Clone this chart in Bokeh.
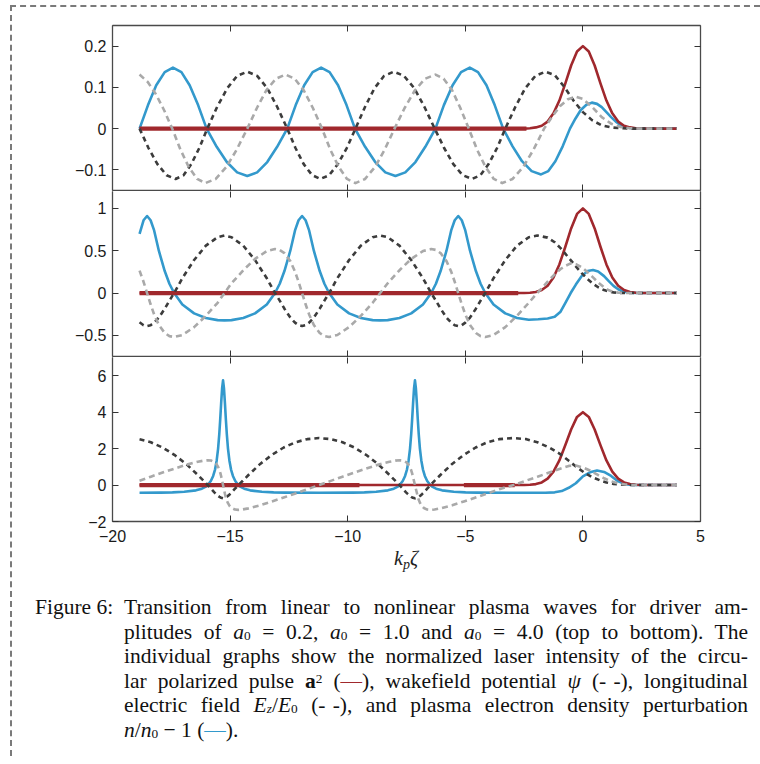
from bokeh.plotting import figure
from bokeh.models import Range1d, LinearAxis, FixedTicker, Div
from bokeh.layouts import column
from bokeh.embed import file_html
from bokeh.resources import INLINE

# ---------------- axes / ticks ----------------
x_ticks = [-20, -15, -10, -5, 0, 5]
x_tick_labels = ["\u221220", "\u221215", "\u221210", "\u22125", "0", "5"]
p1_y_range = (-0.15, 0.25)
p1_y_ticks = [-0.1, 0, 0.1, 0.2]
p1_y_labels = ["\u22120.1", "0", "0.1", "0.2"]
p2_y_range = (-0.75, 1.2)
p2_y_ticks = [-0.5, 0, 0.5, 1]
p2_y_labels = ["\u22120.5", "0", "0.5", "1"]
p3_y_range = (-2, 7)
p3_y_ticks = [-2, 0, 2, 4, 6]
p3_y_labels = ["\u22122", "0", "2", "4", "6"]

# ---------------- panel 1 : a0 = 0.2 ----------------
p1_laser = [(-18.85, 0.0), (-2.5, 0.0), (-2.25, 0.001), (-2.0, 0.003), (-1.75, 0.007), (-1.5, 0.017),
            (-1.25, 0.037), (-1.0, 0.068), (-0.75, 0.109), (-0.5, 0.153), (-0.25, 0.187), (0.0, 0.2),
            (0.25, 0.187), (0.5, 0.153), (0.75, 0.109), (1.0, 0.068), (1.25, 0.037), (1.5, 0.017),
            (1.75, 0.007), (2.0, 0.003), (2.25, 0.001), (2.5, 0.0), (4.0, 0.0)]
p1_density = [(-18.85, 0.0), (-18.49, 0.057), (-18.14, 0.105), (-17.78, 0.137), (-17.43, 0.148),
              (-17.07, 0.137), (-16.72, 0.105), (-16.36, 0.057), (-16.00, 0.0), (-15.57, -0.044),
              (-15.14, -0.081), (-14.70, -0.106), (-14.27, -0.115), (-13.85, -0.106), (-13.42, -0.081),
              (-13.00, -0.044), (-12.57, 0.0), (-12.21, 0.057), (-11.85, 0.105), (-11.49, 0.137),
              (-11.13, 0.148), (-10.77, 0.137), (-10.41, 0.105), (-10.05, 0.057), (-9.69, 0.0),
              (-9.26, -0.044), (-8.83, -0.081), (-8.40, -0.106), (-7.97, -0.115), (-7.55, -0.106),
              (-7.12, -0.081), (-6.70, -0.044), (-6.27, 0.0), (-5.91, 0.057), (-5.54, 0.105),
              (-5.18, 0.137), (-4.81, 0.148), (-4.46, 0.137), (-4.10, 0.105), (-3.75, 0.057),
              (-3.39, 0.0), (-2.99, -0.043), (-2.59, -0.079), (-2.18, -0.103), (-1.78, -0.111),
              (-1.47, -0.103), (-1.17, -0.079), (-0.86, -0.043), (-0.55, 0.0), (-0.32, 0.024),
              (-0.09, 0.045), (0.15, 0.058), (0.38, 0.063), (0.6, 0.060), (0.8, 0.052), (1.0, 0.040),
              (1.2, 0.028), (1.4, 0.017), (1.6, 0.009), (1.8, 0.004), (2.0, 0.0015), (2.3, 0.0), (4.0, 0.0)]
p1_potential = [(-18.85, 0.0), (-18.47, -0.047), (-18.09, -0.086), (-17.70, -0.113), (-17.32, -0.122),
                (-16.98, -0.113), (-16.65, -0.086), (-16.31, -0.047), (-15.97, 0.0), (-15.55, 0.053),
                (-15.12, 0.098), (-14.70, 0.128), (-14.27, 0.138), (-13.85, 0.128), (-13.42, 0.098),
                (-13.00, 0.053), (-12.57, 0.0), (-12.22, -0.047), (-11.87, -0.086), (-11.51, -0.113),
                (-11.16, -0.122), (-10.79, -0.113), (-10.42, -0.086), (-10.04, -0.047), (-9.67, 0.0),
                (-9.26, 0.053), (-8.86, 0.098), (-8.45, 0.128), (-8.04, 0.138), (-7.61, 0.128),
                (-7.17, 0.098), (-6.74, 0.053), (-6.30, 0.0), (-5.90, -0.047), (-5.51, -0.086),
                (-5.11, -0.113), (-4.71, -0.122), (-4.36, -0.113), (-4.01, -0.086), (-3.65, -0.047),
                (-3.30, 0.0), (-2.87, 0.053), (-2.45, 0.098), (-2.02, 0.128), (-1.59, 0.138),
                (-1.2, 0.130), (-0.8, 0.102), (-0.4, 0.068), (0.0, 0.040), (0.4, 0.020), (0.8, 0.008),
                (1.2, 0.003), (1.6, 0.001), (2.0, 0.0), (4.0, 0.0)]
p1_field = [(-18.85, 0.131), (-18.50, 0.113), (-18.15, 0.083), (-17.80, 0.044), (-17.46, 0.0),
            (-17.11, -0.051), (-16.76, -0.093), (-16.40, -0.122), (-16.05, -0.132), (-15.61, -0.122),
            (-15.16, -0.093), (-14.72, -0.051), (-14.27, 0.0), (-13.86, 0.050), (-13.46, 0.093),
            (-13.05, 0.121), (-12.64, 0.131), (-12.25, 0.121), (-11.87, 0.093), (-11.48, 0.050),
            (-11.09, 0.0), (-10.74, -0.051), (-10.38, -0.093), (-10.03, -0.122), (-9.67, -0.132),
            (-9.26, -0.122), (-8.84, -0.093), (-8.43, -0.051), (-8.01, 0.0), (-7.58, 0.050),
            (-7.14, 0.093), (-6.71, 0.121), (-6.27, 0.131), (-5.92, 0.121), (-5.56, 0.093),
            (-5.21, 0.050), (-4.85, 0.0), (-4.50, -0.051), (-4.14, -0.093), (-3.79, -0.122),
            (-3.43, -0.132), (-2.99, -0.122), (-2.54, -0.093), (-2.10, -0.051), (-1.65, 0.0),
            (-1.31, 0.029), (-0.98, 0.054), (-0.64, 0.071), (-0.30, 0.077), (0.0, 0.072), (0.4, 0.052),
            (0.8, 0.028), (1.2, 0.012), (1.6, 0.004), (2.0, 0.001), (2.4, 0.0), (4.0, 0.0)]
p1_laser_base = [(-18.85, 0.0), (-2.4, 0.0)]

# ---------------- panel 2 : a0 = 1.0 ----------------
p2_laser = [(-18.85, 0.0), (-2.5, 0.0), (-2.25, 0.004), (-2.0, 0.013), (-1.75, 0.036), (-1.5, 0.087),
            (-1.25, 0.184), (-1.0, 0.338), (-0.75, 0.544), (-0.5, 0.763), (-0.25, 0.935), (0.0, 1.0),
            (0.25, 0.935), (0.5, 0.763), (0.75, 0.544), (1.0, 0.338), (1.25, 0.184), (1.5, 0.087),
            (1.75, 0.036), (2.0, 0.013), (2.25, 0.004), (2.5, 0.0), (4.0, 0.0)]
p2_density = [(-18.85, 0.70), (-18.68, 0.86), (-18.53, 0.91), (-18.38, 0.86), (-18.23, 0.74), (-18.03, 0.50),
              (-17.78, 0.26), (-17.58, 0.11), (-17.38, 0.0), (-17.03, -0.135), (-16.53, -0.24),
              (-16.03, -0.295), (-15.53, -0.32), (-15.24, -0.323), (-14.94, -0.32), (-14.44, -0.295),
              (-13.94, -0.24), (-13.44, -0.135), (-13.09, 0.0), (-12.89, 0.11), (-12.69, 0.26),
              (-12.44, 0.50), (-12.24, 0.74), (-12.09, 0.86), (-11.94, 0.91), (-11.79, 0.86),
              (-11.64, 0.74), (-11.44, 0.50), (-11.19, 0.26), (-10.99, 0.11), (-10.79, 0.0),
              (-10.44, -0.135), (-9.94, -0.24), (-9.44, -0.295), (-8.94, -0.32), (-8.62, -0.323),
              (-8.30, -0.32), (-7.80, -0.295), (-7.30, -0.24), (-6.80, -0.135), (-6.45, 0.0),
              (-6.25, 0.11), (-6.05, 0.26), (-5.80, 0.50), (-5.60, 0.74), (-5.45, 0.86), (-5.30, 0.91),
              (-5.15, 0.86), (-5.00, 0.74), (-4.80, 0.50), (-4.55, 0.26), (-4.35, 0.11), (-4.15, 0.0),
              (-3.80, -0.135), (-3.30, -0.24), (-2.80, -0.295), (-2.30, -0.315), (-1.90, -0.31),
              (-1.50, -0.30), (-1.20, -0.28), (-0.95, -0.22), (-0.75, -0.12), (-0.52, 0.0),
              (-0.30, 0.10), (-0.05, 0.20), (0.20, 0.26), (0.43, 0.272), (0.65, 0.255), (0.90, 0.20),
              (1.10, 0.14), (1.30, 0.085), (1.50, 0.045), (1.70, 0.02), (2.00, 0.005), (2.30, 0.0),
              (4.00, 0.0)]
p2_potential = [(-18.85, -0.345), (-18.68, -0.38), (-18.53, -0.39), (-18.38, -0.38), (-18.23, -0.35),
                (-18.03, -0.29), (-17.78, -0.185), (-17.58, -0.09), (-17.38, 0.0), (-17.03, 0.175),
                (-16.53, 0.39), (-16.03, 0.56), (-15.53, 0.66), (-15.24, 0.68), (-14.94, 0.66),
                (-14.44, 0.56), (-13.94, 0.39), (-13.44, 0.175), (-13.09, 0.0), (-12.89, -0.09),
                (-12.69, -0.185), (-12.44, -0.29), (-12.24, -0.35), (-12.09, -0.38), (-11.94, -0.39),
                (-11.79, -0.38), (-11.64, -0.35), (-11.44, -0.29), (-11.19, -0.185), (-10.99, -0.09),
                (-10.79, 0.0), (-10.44, 0.175), (-9.94, 0.39), (-9.44, 0.56), (-8.94, 0.66),
                (-8.62, 0.68), (-8.30, 0.66), (-7.80, 0.56), (-7.30, 0.39), (-6.80, 0.175), (-6.45, 0.0),
                (-6.25, -0.09), (-6.05, -0.185), (-5.80, -0.29), (-5.60, -0.35), (-5.45, -0.38),
                (-5.30, -0.39), (-5.15, -0.38), (-5.00, -0.35), (-4.80, -0.29), (-4.55, -0.185),
                (-4.35, -0.09), (-4.15, 0.0), (-3.80, 0.175), (-3.30, 0.39), (-2.80, 0.56),
                (-2.30, 0.66), (-1.94, 0.68), (-1.50, 0.655), (-1.20, 0.60), (-0.95, 0.53),
                (-0.75, 0.465), (-0.52, 0.39), (-0.30, 0.315), (-0.05, 0.235), (0.20, 0.165),
                (0.43, 0.11), (0.65, 0.068), (0.90, 0.035), (1.10, 0.018), (1.30, 0.008), (1.50, 0.003),
                (1.70, 0.001), (2.00, 0.0), (4.00, 0.0)]
p2_field = [(-18.85, 0.265), (-18.68, 0.133), (-18.53, 0.0), (-18.38, -0.133), (-18.23, -0.253),
            (-18.03, -0.377), (-17.78, -0.472), (-17.58, -0.509), (-17.38, -0.52), (-17.03, -0.496),
            (-16.53, -0.403), (-16.03, -0.269), (-15.53, -0.115), (-15.24, 0.0), (-14.94, 0.115),
            (-14.44, 0.269), (-13.94, 0.403), (-13.44, 0.496), (-13.09, 0.52), (-12.89, 0.509),
            (-12.69, 0.472), (-12.44, 0.377), (-12.24, 0.253), (-12.09, 0.133), (-11.94, 0.0),
            (-11.79, -0.133), (-11.64, -0.253), (-11.44, -0.377), (-11.19, -0.472), (-10.99, -0.509),
            (-10.79, -0.52), (-10.44, -0.496), (-9.94, -0.403), (-9.44, -0.269), (-8.94, -0.115),
            (-8.62, 0.0), (-8.30, 0.115), (-7.80, 0.269), (-7.30, 0.403), (-6.80, 0.496), (-6.45, 0.52),
            (-6.25, 0.509), (-6.05, 0.472), (-5.80, 0.377), (-5.60, 0.253), (-5.45, 0.133), (-5.30, 0.0),
            (-5.15, -0.133), (-5.00, -0.253), (-4.80, -0.377), (-4.55, -0.472), (-4.35, -0.509),
            (-4.15, -0.52), (-3.80, -0.496), (-3.30, -0.403), (-2.80, -0.269), (-2.30, -0.115),
            (-1.94, 0.0), (-1.50, 0.134), (-1.20, 0.22), (-0.95, 0.284), (-0.75, 0.32), (-0.52, 0.35),
            (-0.30, 0.34), (-0.05, 0.305), (0.20, 0.245), (0.43, 0.185), (0.65, 0.125), (0.90, 0.068),
            (1.10, 0.033), (1.30, 0.014), (1.50, 0.005), (1.80, 0.001), (2.20, 0.0), (4.00, 0.0)]
p2_laser_base = [(-18.85, 0.0), (-2.75, 0.0)]

# ---------------- panel 3 : a0 = 4.0 ----------------
p3_laser = [(-18.85, 0.0), (-2.5, 0.0), (-2.25, 0.016), (-2.0, 0.052), (-1.75, 0.145), (-1.5, 0.35),
            (-1.25, 0.74), (-1.0, 1.35), (-0.75, 2.18), (-0.5, 3.05), (-0.25, 3.74), (0.0, 4.0),
            (0.25, 3.74), (0.5, 3.05), (0.75, 2.18), (1.0, 1.35), (1.25, 0.74), (1.5, 0.35),
            (1.75, 0.145), (2.0, 0.052), (2.25, 0.016), (2.5, 0.0), (4.0, 0.0)]
p3_density = [(-18.85, -0.42), (-17.95, -0.415), (-17.45, -0.40), (-16.95, -0.37), (-16.45, -0.29),
              (-16.20, -0.20), (-16.05, -0.10), (-15.95, 0.0), (-15.82, 0.22), (-15.72, 0.5),
              (-15.64, 0.85), (-15.57, 1.35), (-15.51, 2.0), (-15.46, 2.8), (-15.42, 3.6), (-15.38, 4.5),
              (-15.34, 5.3), (-15.30, 5.75), (-15.26, 5.3), (-15.22, 4.5), (-15.18, 3.6), (-15.14, 2.8),
              (-15.09, 2.0), (-15.03, 1.35), (-14.96, 0.85), (-14.88, 0.5), (-14.78, 0.22), (-14.65, 0.0),
              (-14.55, -0.10), (-14.40, -0.20), (-14.15, -0.29), (-13.65, -0.37), (-13.15, -0.40),
              (-12.65, -0.415), (-11.22, -0.42), (-9.79, -0.415), (-9.29, -0.40), (-8.79, -0.37),
              (-8.29, -0.29), (-8.04, -0.20), (-7.89, -0.10), (-7.79, 0.0), (-7.66, 0.22), (-7.56, 0.5),
              (-7.48, 0.85), (-7.41, 1.35), (-7.35, 2.0), (-7.30, 2.8), (-7.26, 3.6), (-7.22, 4.5),
              (-7.18, 5.3), (-7.14, 5.75), (-7.10, 5.3), (-7.06, 4.5), (-7.02, 3.6), (-6.98, 2.8),
              (-6.93, 2.0), (-6.87, 1.35), (-6.80, 0.85), (-6.72, 0.5), (-6.62, 0.22), (-6.49, 0.0),
              (-6.39, -0.10), (-6.24, -0.20), (-5.99, -0.29), (-5.49, -0.37), (-4.99, -0.40),
              (-4.49, -0.415), (-3.0, -0.42), (-1.6, -0.42), (-1.2, -0.40), (-0.9, -0.33), (-0.6, -0.15),
              (-0.3, 0.10), (0.0, 0.48), (0.3, 0.70), (0.6, 0.80), (0.9, 0.72), (1.2, 0.50), (1.5, 0.20),
              (1.8, 0.05), (2.1, 0.01), (2.5, 0.0), (4.0, 0.0)]
p3_potential = [(-18.85, 2.51), (-18.37, 2.35), (-17.87, 2.06), (-17.37, 1.66), (-16.87, 1.16),
                (-16.37, 0.55), (-16.12, 0.225), (-15.95, 0.0), (-15.81, -0.2), (-15.67, -0.4),
                (-15.59, -0.5), (-15.505, -0.6), (-15.45, -0.65), (-15.41, -0.68), (-15.38, -0.70),
                (-15.30, -0.73), (-15.22, -0.70), (-15.19, -0.68), (-15.15, -0.65), (-15.095, -0.6),
                (-15.01, -0.5), (-14.93, -0.4), (-14.79, -0.2), (-14.65, 0.0), (-14.47, 0.225),
                (-14.22, 0.55), (-13.72, 1.16), (-13.22, 1.66), (-12.72, 2.06), (-12.22, 2.35),
                (-11.72, 2.52), (-11.22, 2.58), (-10.72, 2.52), (-10.22, 2.35), (-9.72, 2.06),
                (-9.22, 1.66), (-8.72, 1.16), (-8.22, 0.55), (-7.97, 0.225), (-7.80, 0.0), (-7.66, -0.2),
                (-7.52, -0.4), (-7.44, -0.5), (-7.355, -0.6), (-7.30, -0.65), (-7.26, -0.68),
                (-7.23, -0.70), (-7.14, -0.73), (-7.05, -0.70), (-7.02, -0.68), (-6.98, -0.65),
                (-6.925, -0.6), (-6.84, -0.5), (-6.76, -0.4), (-6.62, -0.2), (-6.48, 0.0), (-6.31, 0.225),
                (-6.06, 0.55), (-5.56, 1.16), (-5.06, 1.66), (-4.56, 2.06), (-4.06, 2.35), (-3.56, 2.52),
                (-2.95, 2.58), (-2.4, 2.52), (-1.9, 2.33), (-1.4, 2.04), (-1.0, 1.73), (-0.6, 1.33),
                (-0.23, 0.95), (0.1, 0.65), (0.4, 0.43), (0.76, 0.24), (1.0, 0.14), (1.3, 0.065),
                (1.6, 0.025), (2.0, 0.006), (2.4, 0.0), (4.0, 0.0)]
p3_field = [(-18.85, 0.24), (-18.37, 0.46), (-17.87, 0.685), (-17.37, 0.90), (-16.87, 1.11), (-16.37, 1.28),
            (-16.12, 1.34), (-15.95, 1.36), (-15.81, 1.345), (-15.67, 1.26), (-15.59, 1.17),
            (-15.505, 0.98), (-15.45, 0.81), (-15.41, 0.64), (-15.38, 0.48), (-15.30, 0.0),
            (-15.22, -0.48), (-15.19, -0.64), (-15.15, -0.81), (-15.095, -0.98), (-15.01, -1.17),
            (-14.93, -1.26), (-14.79, -1.345), (-14.65, -1.36), (-14.47, -1.34), (-14.22, -1.28),
            (-13.72, -1.11), (-13.22, -0.90), (-12.72, -0.685), (-12.22, -0.46), (-11.72, -0.23),
            (-11.22, 0.0), (-10.72, 0.23), (-10.22, 0.46), (-9.72, 0.685), (-9.22, 0.90), (-8.72, 1.11),
            (-8.22, 1.28), (-7.97, 1.34), (-7.80, 1.36), (-7.66, 1.345), (-7.52, 1.26), (-7.44, 1.17),
            (-7.355, 0.98), (-7.30, 0.81), (-7.26, 0.64), (-7.23, 0.48), (-7.14, 0.0), (-7.05, -0.48),
            (-7.02, -0.64), (-6.98, -0.81), (-6.925, -0.98), (-6.84, -1.17), (-6.76, -1.26),
            (-6.62, -1.345), (-6.48, -1.36), (-6.31, -1.34), (-6.06, -1.28), (-5.56, -1.11),
            (-5.06, -0.90), (-4.56, -0.685), (-4.06, -0.46), (-3.56, -0.23), (-2.95, 0.0), (-2.4, 0.25),
            (-1.9, 0.47), (-1.4, 0.70), (-1.0, 0.88), (-0.6, 1.05), (-0.3, 1.07), (0.0, 0.97),
            (0.3, 0.80), (0.6, 0.58), (0.9, 0.37), (1.2, 0.20), (1.5, 0.09), (1.8, 0.03), (2.1, 0.008),
            (2.5, 0.0), (4.0, 0.0)]
p3_laser_base_a = [(-18.85, 0.0), (-9.5, 0.0)]
p3_laser_base_b = [(-5.06, 0.0), (-2.9, 0.0)]

# ---------------- styling ----------------
C_LASER = "#a0282d"
C_DENS = "#3399cc"
C_POT = "#3c3c3c"
C_FIELD = "#a9a9a9"
FRAME = "#4a4a4a"


def xs(pts):
    return [p[0] for p in pts]


def ys(pts):
    return [p[1] for p in pts]


def add_axis(p, side, ticks, labels, show_labels, draw_line):
    ax = LinearAxis(ticker=FixedTicker(ticks=ticks), major_tick_in=6, major_tick_out=0,
                    minor_tick_line_color=None, major_tick_line_color="#333333", major_tick_line_width=1,
                    axis_line_color=FRAME if draw_line else None, axis_line_width=1.3)
    if show_labels:
        ax.major_label_overrides = dict(zip(ticks, labels))
        ax.major_label_text_font = "Liberation Sans"
        ax.major_label_text_font_size = "16px"
        ax.major_label_text_color = "#1a1a1a"
        ax.major_label_standoff = 6 if side in ("left", "right") else 8
    else:
        ax.major_label_text_font_size = "0px"
        ax.major_label_text_color = None
        ax.major_label_standoff = 0
    p.add_layout(ax, side)


def panel(yr, yticks, ylabels, frame_h, top, bottom, x_labels, top_line):
    p = figure(frame_width=588, frame_height=frame_h, x_range=Range1d(-20, 5), y_range=Range1d(*yr),
               output_backend="svg", toolbar_location=None, x_axis_location=None, y_axis_location=None,
               min_border_left=100, min_border_right=60, min_border_top=top, min_border_bottom=bottom)
    p.grid.visible = False
    p.outline_line_color = None
    p.background_fill_color = "white"
    p.border_fill_color = "white"
    add_axis(p, "left", yticks, ylabels, True, True)
    add_axis(p, "right", yticks, ylabels, False, True)
    add_axis(p, "above", x_ticks, x_tick_labels, False, top_line)
    add_axis(p, "below", x_ticks, x_tick_labels, x_labels, True)
    return p


def draw(p, laser, bases, density, potential, field):
    p.line(xs(density), ys(density), line_color=C_DENS, line_width=2.6, line_join="round")
    for b in bases:
        p.line(xs(b), ys(b), line_color=C_LASER, line_width=4.2)
    p.line(xs(laser), ys(laser), line_color=C_LASER, line_width=2.6, line_join="round")
    p.line(xs(potential), ys(potential), line_color=C_POT, line_width=2.6, line_dash="5 4",
           line_join="round")
    p.line(xs(field), ys(field), line_color=C_FIELD, line_width=2.6, line_dash="6 4", line_join="round")


f1 = panel(p1_y_range, p1_y_ticks, p1_y_labels, 165, 18, 1, False, True)
draw(f1, p1_laser, [p1_laser_base], p1_density, p1_potential, p1_field)
f2 = panel(p2_y_range, p2_y_ticks, p2_y_labels, 165, 0, 1, False, False)
draw(f2, p2_laser, [p2_laser_base], p2_density, p2_potential, p2_field)
f3 = panel(p3_y_range, p3_y_ticks, p3_y_labels, 164, 0, 28, True, False)
draw(f3, p3_laser, [p3_laser_base_a, p3_laser_base_b], p3_density, p3_potential, p3_field)

xlabel = Div(text=('<div style="margin-left:364px;width:60px;text-align:center;'
                   'font-family:\'Liberation Serif\',serif;font-style:italic;font-size:20px;'
                   'line-height:18px;color:#222">k<sub style="font-size:0.7em;line-height:0;'
                   'vertical-align:-0.3em">p</sub>\u03b6</div>'),
             width=748, height=18, margin=(0, 0, 0, 0))

SUB = '<sub style="font-size:0.62em;line-height:0;vertical-align:-0.1em">'
SUP = '<sup style="font-size:0.62em;line-height:0;vertical-align:0.4em">'
J = 'style="text-align:justify;text-align-last:justify;"'
DD = "(-\u2004-)"
caption_html = (
    '<div style="position:relative;font-family:\'Liberation Serif\',serif;font-size:21.5px;'
    'line-height:24.5px;color:#111;padding-top:28px;">'
    '<div style="position:absolute;left:23px;top:28px;">Figure 6:</div>'
    '<div style="margin-left:112px;width:624px;">'
    f'<div {J}>Transition from linear to nonlinear plasma waves for driver am-</div>'
    f'<div {J}>plitudes of <i>a</i>{SUB}0</sub> = 0.2, <i>a</i>{SUB}0</sub> = 1.0 and '
    f'<i>a</i>{SUB}0</sub> = 4.0 (top to bottom). The</div>'
    f'<div {J}>individual graphs show the normalized laser intensity of the circu-</div>'
    f'<div {J}>lar polarized pulse <b>a</b>{SUP}2</sup> (<span style="color:{C_LASER}">\u2014</span>), '
    f'wakefield potential <i>\u03c8</i> {DD}, longitudinal</div>'
    f'<div {J}>electric field <i>E</i>{SUB}<i>z</i></sub>/<i>E</i>{SUB}0</sub> {DD}, and plasma '
    'electron density perturbation</div>'
    f'<div><i>n</i>/<i>n</i>{SUB}0</sub> \u2212 1 (<span style="color:{C_DENS}">\u2014</span>).</div>'
    '</div></div>'
)
caption = Div(text=caption_html, width=748, height=189, margin=(0, 0, 0, 0))

layout = column(f1, f2, f3, xlabel, caption, margin=(5, 0, 0, 10),
                styles={"border-top": "2px dashed #7a7a7a", "border-left": "2px dashed #7a7a7a"})

open("out.html", "w").write(file_html(layout, INLINE))
